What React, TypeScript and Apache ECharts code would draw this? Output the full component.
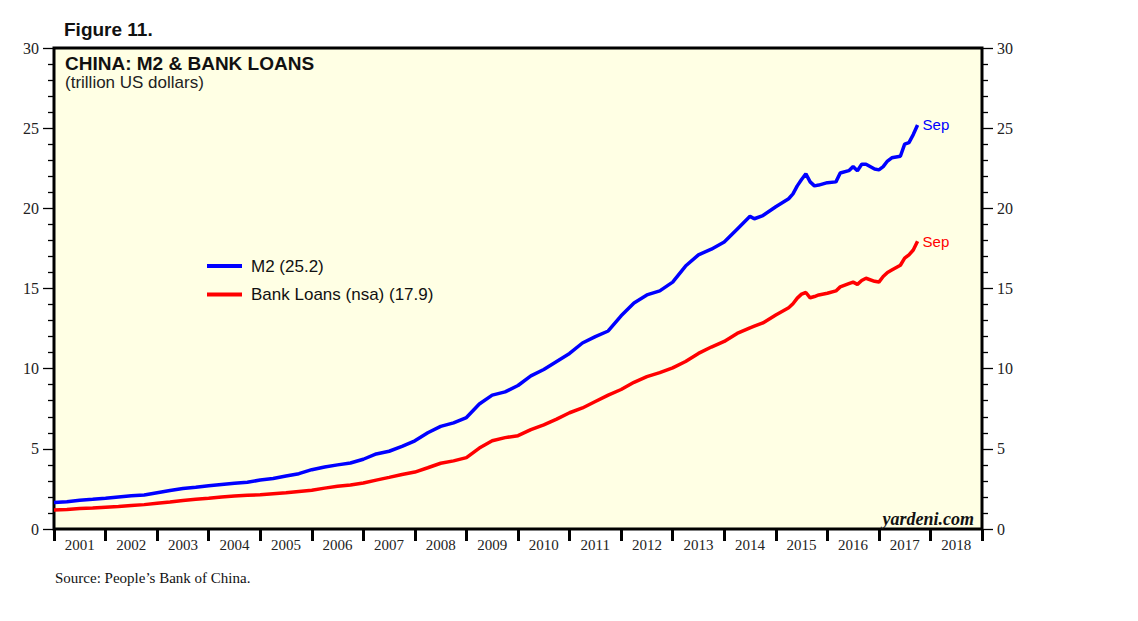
import React, { useEffect, useRef } from "react";
import * as echarts from "echarts";

const dates = [
  "2000-12",
  "2001-03", "2001-06", "2001-09", "2001-12",
  "2002-03", "2002-06", "2002-09", "2002-12",
  "2003-03", "2003-06", "2003-09", "2003-12",
  "2004-03", "2004-06", "2004-09", "2004-12",
  "2005-03", "2005-06", "2005-09", "2005-12",
  "2006-03", "2006-06", "2006-09", "2006-12",
  "2007-03", "2007-06", "2007-09", "2007-12",
  "2008-03", "2008-06", "2008-09", "2008-12",
  "2009-03", "2009-06", "2009-09", "2009-12",
  "2010-03", "2010-06", "2010-09", "2010-12",
  "2011-03", "2011-06", "2011-09", "2011-12",
  "2012-03", "2012-06", "2012-09", "2012-12",
  "2013-03", "2013-06", "2013-09", "2013-12",
  "2014-03", "2014-06", "2014-07", "2014-09", "2014-12",
  "2015-03", "2015-04", "2015-05", "2015-06", "2015-07", "2015-08", "2015-09", "2015-10", "2015-12",
  "2016-02", "2016-03", "2016-05", "2016-06", "2016-07", "2016-08", "2016-09", "2016-11", "2016-12",
  "2017-01", "2017-02", "2017-03", "2017-05", "2017-06", "2017-07", "2017-08", "2017-09",
];

const m2 = [
  1.65,
  1.70, 1.80, 1.85, 1.92,
  2.00, 2.07, 2.12, 2.26,
  2.40, 2.52, 2.60, 2.70,
  2.78, 2.85, 2.92, 3.05,
  3.15, 3.30, 3.45, 3.70,
  3.87, 4.00, 4.12, 4.35,
  4.68, 4.85, 5.15, 5.50,
  6.00, 6.40, 6.62, 6.95,
  7.80, 8.35, 8.55, 8.95,
  9.55, 9.95, 10.45, 10.95,
  11.60, 12.00, 12.35, 13.30,
  14.10, 14.60, 14.85, 15.40,
  16.40, 17.10, 17.45, 17.90,
  18.70, 19.50, 19.35, 19.55, 20.10,
  20.60, 20.90, 21.40, 21.80, 22.15, 21.65, 21.40, 21.45, 21.60,
  21.65, 22.20, 22.35, 22.60, 22.35, 22.75, 22.75, 22.45, 22.40,
  22.60, 22.95, 23.15, 23.25, 24.00, 24.10, 24.60, 25.20,
];

const loans = [
  1.18,
  1.22, 1.28, 1.31, 1.36,
  1.40, 1.46, 1.52, 1.60,
  1.68, 1.78, 1.86, 1.92,
  2.00, 2.06, 2.10, 2.14,
  2.20, 2.26, 2.34, 2.42,
  2.55, 2.66, 2.75, 2.87,
  3.05, 3.22, 3.40, 3.55,
  3.82, 4.10, 4.25, 4.45,
  5.05, 5.50, 5.70, 5.82,
  6.20, 6.50, 6.85, 7.25,
  7.55, 7.95, 8.35, 8.70,
  9.15, 9.50, 9.75, 10.05,
  10.45, 10.95, 11.35, 11.70,
  12.20, 12.55, 12.65, 12.85, 13.35,
  13.80, 14.05, 14.40, 14.65, 14.75, 14.42, 14.50, 14.60, 14.70,
  14.85, 15.10, 15.30, 15.40, 15.26, 15.50, 15.64, 15.45, 15.40,
  15.75, 16.00, 16.15, 16.45, 16.90, 17.10, 17.40, 17.95,
];

const yearLabels = [
  "2001", "2002", "2003", "2004", "2005", "2006", "2007", "2008", "2009",
  "2010", "2011", "2012", "2013", "2014", "2015", "2016", "2017", "2018",
];

const seriesNames = ["M2 (25.2)", "Bank Loans (nsa) (17.9)"];
const lastLabel = "Sep";

const toX = (d: string) => {
  const [y, m] = d.split("-").map(Number);
  return y + m / 12;
};

const SANS = "Liberation Sans, Arial, sans-serif";
const SERIF = "Liberation Serif, Times New Roman, serif";

export default function App() {
  const ref = useRef<HTMLDivElement>(null);
  useEffect(() => {
    document.body.style.margin = "0";
    const chart = echarts.init(ref.current as HTMLDivElement, null, { renderer: "svg" });
    const yAxisCommon = {
      type: "value",
      min: 0,
      max: 30,
      interval: 5,
      axisLine: { show: false },
      axisTick: { show: true, length: 11, lineStyle: { color: "#000", width: 1.3 } },
      minorTick: { show: true, splitNumber: 5, length: 6, lineStyle: { color: "#000", width: 1.3 } },
      splitLine: { show: false },
      minorSplitLine: { show: false },
      axisLabel: { margin: 15, fontFamily: SERIF, fontSize: 16, color: "#222" },
    };
    chart.setOption({
      animation: false,
      grid: {
        left: 54,
        right: 156,
        top: 48,
        bottom: 92,
        show: true,
        borderColor: "#000",
        borderWidth: 3,
        backgroundColor: "#FFFFE4",
      },
      xAxis: [
        { type: "value", min: 2001, max: 2019, show: false },
        {
          type: "category",
          data: yearLabels,
          boundaryGap: true,
          position: "bottom",
          offset: 0,
          axisLine: { show: false },
          axisTick: { show: true, interval: 0, length: 12, lineStyle: { color: "#000", width: 3 } },
          axisLabel: { interval: 0, margin: 8, fontFamily: SERIF, fontSize: 15, color: "#222" },
          splitLine: { show: false },
        },
      ],
      yAxis: [
        { ...yAxisCommon, position: "left" },
        { ...yAxisCommon, position: "right" },
      ],
      series: [
        {
          name: seriesNames[0],
          type: "line",
          xAxisIndex: 0,
          yAxisIndex: 0,
          data: dates.map((d, i) => [toX(d), m2[i]]),
          showSymbol: false,
          lineStyle: { color: "#0000FF", width: 3.5 },
          endLabel: { show: true, formatter: lastLabel, color: "#0000FF", fontFamily: SANS, fontSize: 15, distance: 5 },
          z: 3,
        },
        {
          name: seriesNames[1],
          type: "line",
          xAxisIndex: 0,
          yAxisIndex: 0,
          data: dates.map((d, i) => [toX(d), loans[i]]),
          showSymbol: false,
          lineStyle: { color: "#FF0000", width: 3.5 },
          endLabel: { show: true, formatter: lastLabel, color: "#FF0000", fontFamily: SANS, fontSize: 15, distance: 5 },
          z: 2,
        },
      ],
      graphic: [
        { type: "text", x: 64, y: 29.5, z: 10, style: { text: "Figure 11.", font: `bold 19px ${SANS}`, fill: "#111", textVerticalAlign: "middle" } },
        { type: "text", x: 65, y: 63, z: 10, style: { text: "CHINA: M2 & BANK LOANS", font: `bold 19px ${SANS}`, fill: "#111", textVerticalAlign: "middle" } },
        { type: "text", x: 65, y: 82, z: 10, style: { text: "(trillion US dollars)", font: `17px ${SANS}`, fill: "#222", textVerticalAlign: "middle" } },
        { type: "line", z: 10, shape: { x1: 207, y1: 266, x2: 242, y2: 266 }, style: { stroke: "#0000FF", lineWidth: 4 } },
        { type: "text", x: 251, y: 266, z: 10, style: { text: seriesNames[0], font: `17px ${SANS}`, fill: "#111", textVerticalAlign: "middle" } },
        { type: "line", z: 10, shape: { x1: 207, y1: 294.5, x2: 242, y2: 294.5 }, style: { stroke: "#FF0000", lineWidth: 4 } },
        { type: "text", x: 251, y: 294.5, z: 10, style: { text: seriesNames[1], font: `17px ${SANS}`, fill: "#111", textVerticalAlign: "middle" } },
        { type: "text", x: 974, y: 518.5, z: 10, style: { text: "yardeni.com", font: `italic bold 18px ${SERIF}`, fill: "#111", textAlign: "right", textVerticalAlign: "middle" } },
        { type: "text", x: 55, y: 577.5, z: 10, style: { text: "Source: People\u2019s Bank of China.", font: `15px ${SERIF}`, fill: "#111", textVerticalAlign: "middle" } },
      ],
    });
    return () => chart.dispose();
  }, []);
  return <div ref={ref} style={{ width: 1138, height: 621 }} />;
}
